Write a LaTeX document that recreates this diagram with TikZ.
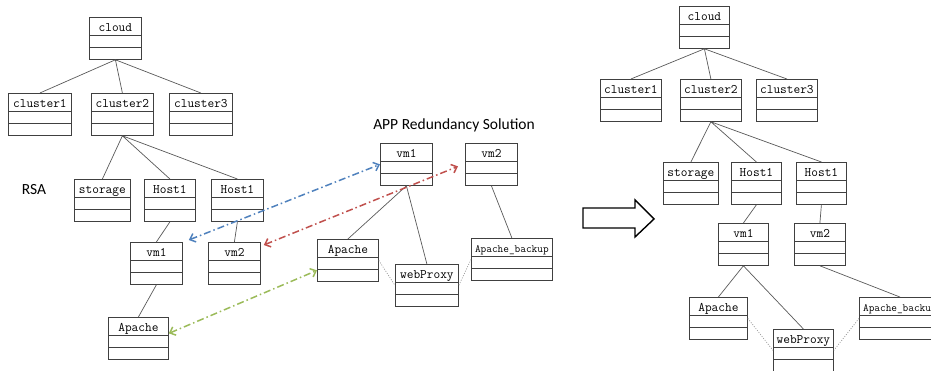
\documentclass[tikz,border=0pt]{standalone}
\usepackage{fontspec}
\newfontfamily\labelfont{Carlito}
\usetikzlibrary{arrows.meta}
\definecolor{linkblue}{HTML}{4F81BD}
\definecolor{linkred}{HTML}{C0504D}
\definecolor{linkgreen}{HTML}{9BBB59}

\begin{document}
\begin{tikzpicture}[
  x=1pt,y=-1pt,
  cls/.style={draw=black!75,line width=0.8pt,anchor=north west,minimum width=#1,
    inner xsep=0pt,inner ysep=0pt,text height=14pt,text depth=28pt,
    font=\fontsize{13}{13}\selectfont\ttfamily,
    path picture={\draw[black!75,line width=0.8pt]
      ([yshift=-18pt]path picture bounding box.north west) -- ([yshift=-18pt]path picture bounding box.north east)
      ([yshift=-30pt]path picture bounding box.north west) -- ([yshift=-30pt]path picture bounding box.north east);}},
  cls/.default=52pt,
  small/.style={font=\fontsize{11}{11}\selectfont\ttfamily},
  tree/.style={draw=black!65,line width=0.7pt},
  dots/.style={draw=black!40,line width=0.7pt,dash pattern=on 1pt off 1.5pt},
  dlink/.style={line width=1.5pt,dash pattern=on 7pt off 3pt on 1.5pt off 3pt,
    {Straight Barb[length=5pt,width=9pt]}-{Straight Barb[length=5pt,width=9pt]}},
  title/.style={font=\labelfont\fontsize{15.5}{16}\selectfont},
]
\useasboundingbox (0,0) rectangle (931,371);

% left tree (RSA)
\node[cls] (cloudL) at (89,17) {cloud};
\node[cls=63pt] (c1L) at (8,93) {cluster1};
\node[cls=62pt] (c2L) at (91,93) {cluster2};
\node[cls=63pt] (c3L) at (169,93) {cluster3};
\node[cls=56pt] (stL) at (74,179) {storage};
\node[cls=51pt] (h1L) at (144,179) {Host1};
\node[cls] (h2L) at (211,179) {Host1};
\node[cls] (vm1L) at (130,242) {vm1};
\node[cls] (vm2L) at (208,242) {vm2};
\node[cls=60pt] (apL) at (108,317) {Apache};
\node[title] (rsa) at (34,190) {RSA};
\draw[tree] (cloudL.south) -- (c1L.north) (cloudL.south) -- (c2L.north) (cloudL.south) -- (c3L.north);
\draw[tree] (c2L.south) -- (stL.north) (c2L.south) -- (h1L.north) (c2L.south) -- (h2L.north);
\draw[tree] (h1L.south) -- (vm1L.north) (h2L.south) -- (vm2L.north);
\draw[tree] (vm1L.south) -- (apL.north);

% middle (redundancy)
\node[title] (app) at (454,125) {APP Redundancy Solution};
\node[cls] (vm1M) at (380,143) {vm1};
\node[cls] (vm2M) at (465,143) {vm2};
\node[cls=61pt] (apM) at (317,239) {Apache};
\node[cls=63pt] (wpM) at (395,264) {webProxy};
\node[cls=81pt,small] (abM) at (471,238) {Apache\_backup};
\draw[tree] (vm1M.south) -- (apM.north) (vm1M.south) -- (wpM.north);
\draw[tree] (vm2M.south) -- (abM.north);
\draw[dots] (apM.east) -- (wpM.west) (abM.west) -- (wpM.east);

% big arrow
\draw[line width=1.4pt,line join=miter] (583,208) -- (635,208) -- (635,200) -- (654,219)
  -- (635,237) -- (635,228) -- (583,228) -- cycle;

% right tree (result)
\node[cls=50pt] (cloudR) at (679,6) {cloud};
\node[cls=61pt] (c1R) at (600,79) {cluster1};
\node[cls=61pt] (c2R) at (680,79) {cluster2};
\node[cls=61pt] (c3R) at (756,79) {cluster3};
\node[cls=55pt] (stR) at (663,162) {storage};
\node[cls=50pt] (h1R) at (731,162) {Host1};
\node[cls=50pt] (h2R) at (796,162) {Host1};
\node[cls=50pt] (vm1R) at (718,223) {vm1};
\node[cls=51pt] (vm2R) at (794,223) {vm2};
\node[cls=58pt] (apR) at (689,297) {Apache};
\node[cls=60pt] (wpR) at (773,329) {webProxy};
\node[cls=81pt,small] (abR) at (859,297) {Apache\_backup};
\draw[tree] (cloudR.south) -- (c1R.north) (cloudR.south) -- (c2R.north) (cloudR.south) -- (c3R.north);
\draw[tree] (c2R.south) -- (stR.north) (c2R.south) -- (h1R.north) (c2R.south) -- (h2R.north);
\draw[tree] (h1R.south) -- (vm1R.north) (h2R.south) -- (vm2R.north);
\draw[tree] (vm1R.south) -- (apR.north) (vm1R.south) -- (wpR.north) (vm2R.south) -- (abR.north);
\draw[dots] (apR.east) -- (wpR.west) (abR.west) -- (wpR.east);

% links between RSA and redundancy
\draw[dlink,linkblue] ([xshift=6pt,yshift=2pt]vm1L.north east) -- (vm1M.west);
\draw[dlink,linkred] ([xshift=3pt,yshift=-3pt]vm2L.north east) -- ([xshift=-7pt,yshift=-2pt]vm2M.west);
\draw[dlink,linkgreen] ([yshift=5pt]apL.east) -- ([yshift=-10pt]apM.west);
\end{tikzpicture}
\end{document}
